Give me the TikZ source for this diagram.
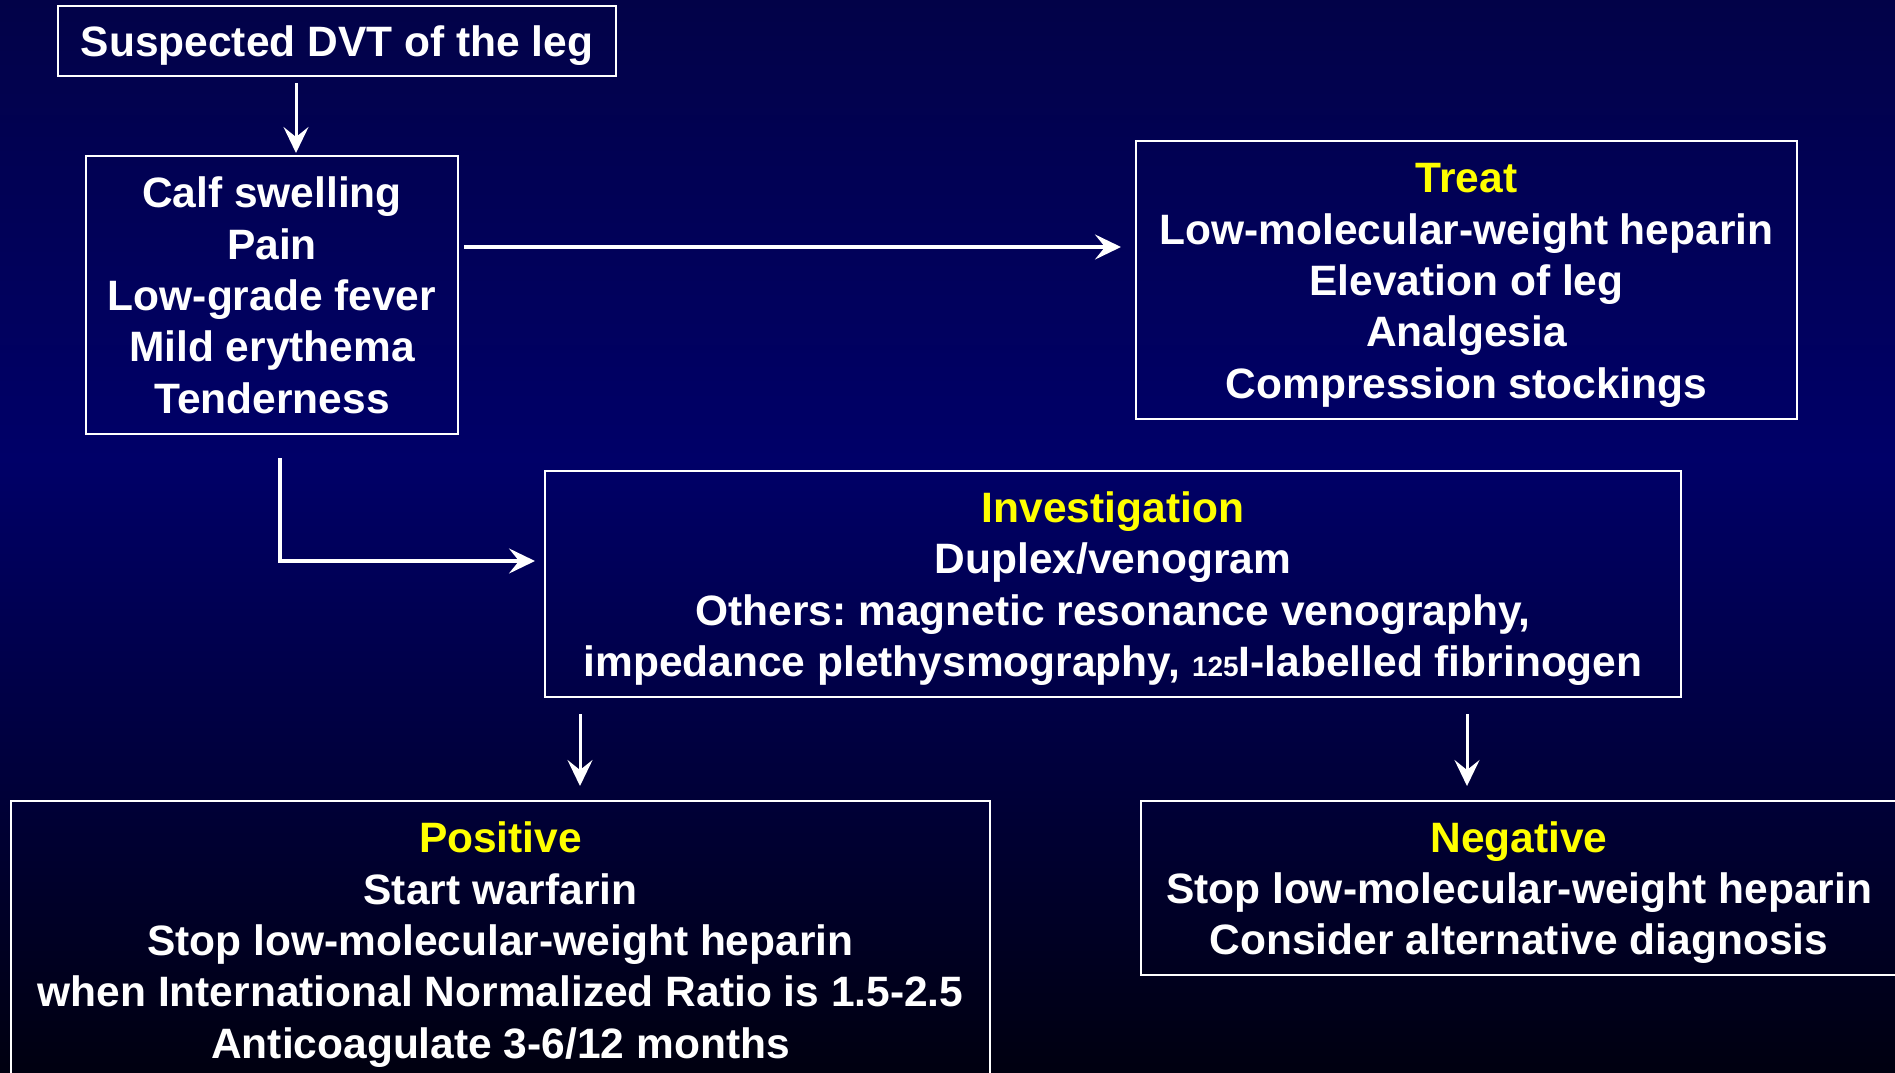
\documentclass[tikz,border=0pt]{standalone}
\usepackage{fontspec}
\setmainfont{Liberation Sans}
\usetikzlibrary{arrows.meta,calc}
\frenchspacing
\definecolor{bgtop}{RGB}{2,2,72}
\definecolor{bgmid}{RGB}{0,0,104}
\definecolor{bgbot}{RGB}{0,0,16}
\definecolor{hdr}{RGB}{255,255,0}
\tikzset{
  box/.style={draw=white, line width=2pt, inner sep=0pt, text=white, align=center,
    font=\bfseries\fontsize{42.5}{51.4}\selectfont},
  arr/.style={draw=white, line width=3.5pt, -{Stealth[length=26pt,width=25pt,inset=10pt]}},
  thinarr/.style={arr, line width=3pt}
}
\newcommand{\hd}[1]{\textcolor{hdr}{#1}}
\newcommand{\st}{\rule[-10pt]{0pt}{51pt}}
\begin{document}
\begin{tikzpicture}[x=1pt,y=-1pt]
\useasboundingbox (0,0) rectangle (1895,1073);
\clip (0,0) rectangle (1895,1073);
\shade[top color=bgtop, bottom color=bgmid] (0,0) rectangle (1895,460);
\shade[top color=bgmid, bottom color=bgbot] (0,459) rectangle (1895,1073);

\node[box, minimum width=558pt, minimum height=70pt] (A) at (337,41) {\st Suspected DVT of the leg};
\node[box, minimum width=372pt, minimum height=278pt] (B) at (272,295)
  {\st Calf swelling\\Pain\\Low-grade fever\\Mild erythema\\Tenderness\st};
\node[box, minimum width=661pt, minimum height=278pt] (C) at (1466.5,280)
  {\st\hd{Treat}\\Low-molecular-weight heparin\\Elevation of leg\\Analgesia\\Compression stockings\st};
\node[box, minimum width=1136pt, minimum height=226pt] (D) at (1113,584)
  {\st\hd{Investigation}\\Duplex/venogram\\Others: magnetic resonance venography,\\impedance plethysmography, {\fontsize{28}{28}\selectfont 125}I-labelled fibrinogen\st};
\node[box, minimum width=979pt, minimum height=278pt] (E) at (500.5,940)
  {\st\hd{Positive}\\Start warfarin\\Stop low-molecular-weight heparin\\when International Normalized Ratio is 1.5-2.5\\Anticoagulate 3-6/12 months\st};
\node[box, minimum width=756pt, minimum height=174pt] (F) at (1519,888)
  {\st\hd{Negative}\\Stop low-molecular-weight heparin\\Consider alternative diagnosis\st};

% connectors
\coordinate (s1) at ($(A.south)+(-41,6)$);
\draw[thinarr] (s1) -- ($(s1 |- B.north)+(0,-2)$);

\coordinate (s2) at ($(B.east)+(5,-48)$);
\draw[arr] (s2) -- ($(s2 -| C.west)+(-14,0)$);

\coordinate (s3) at ($(B.south)+(8,23)$);
\draw[arr] (s3) |- ($(D.west)+(-9,-23)$);

\coordinate (s4) at ($(D.south west)+(36,16)$);
\draw[thinarr] (s4) -- ($(s4 |- E.north)+(0,-14)$);

\coordinate (s5) at ($(D.south east)+(-215,16)$);
\draw[thinarr] (s5) -- ($(s5 |- F.north)+(0,-14)$);
\end{tikzpicture}
\end{document}
